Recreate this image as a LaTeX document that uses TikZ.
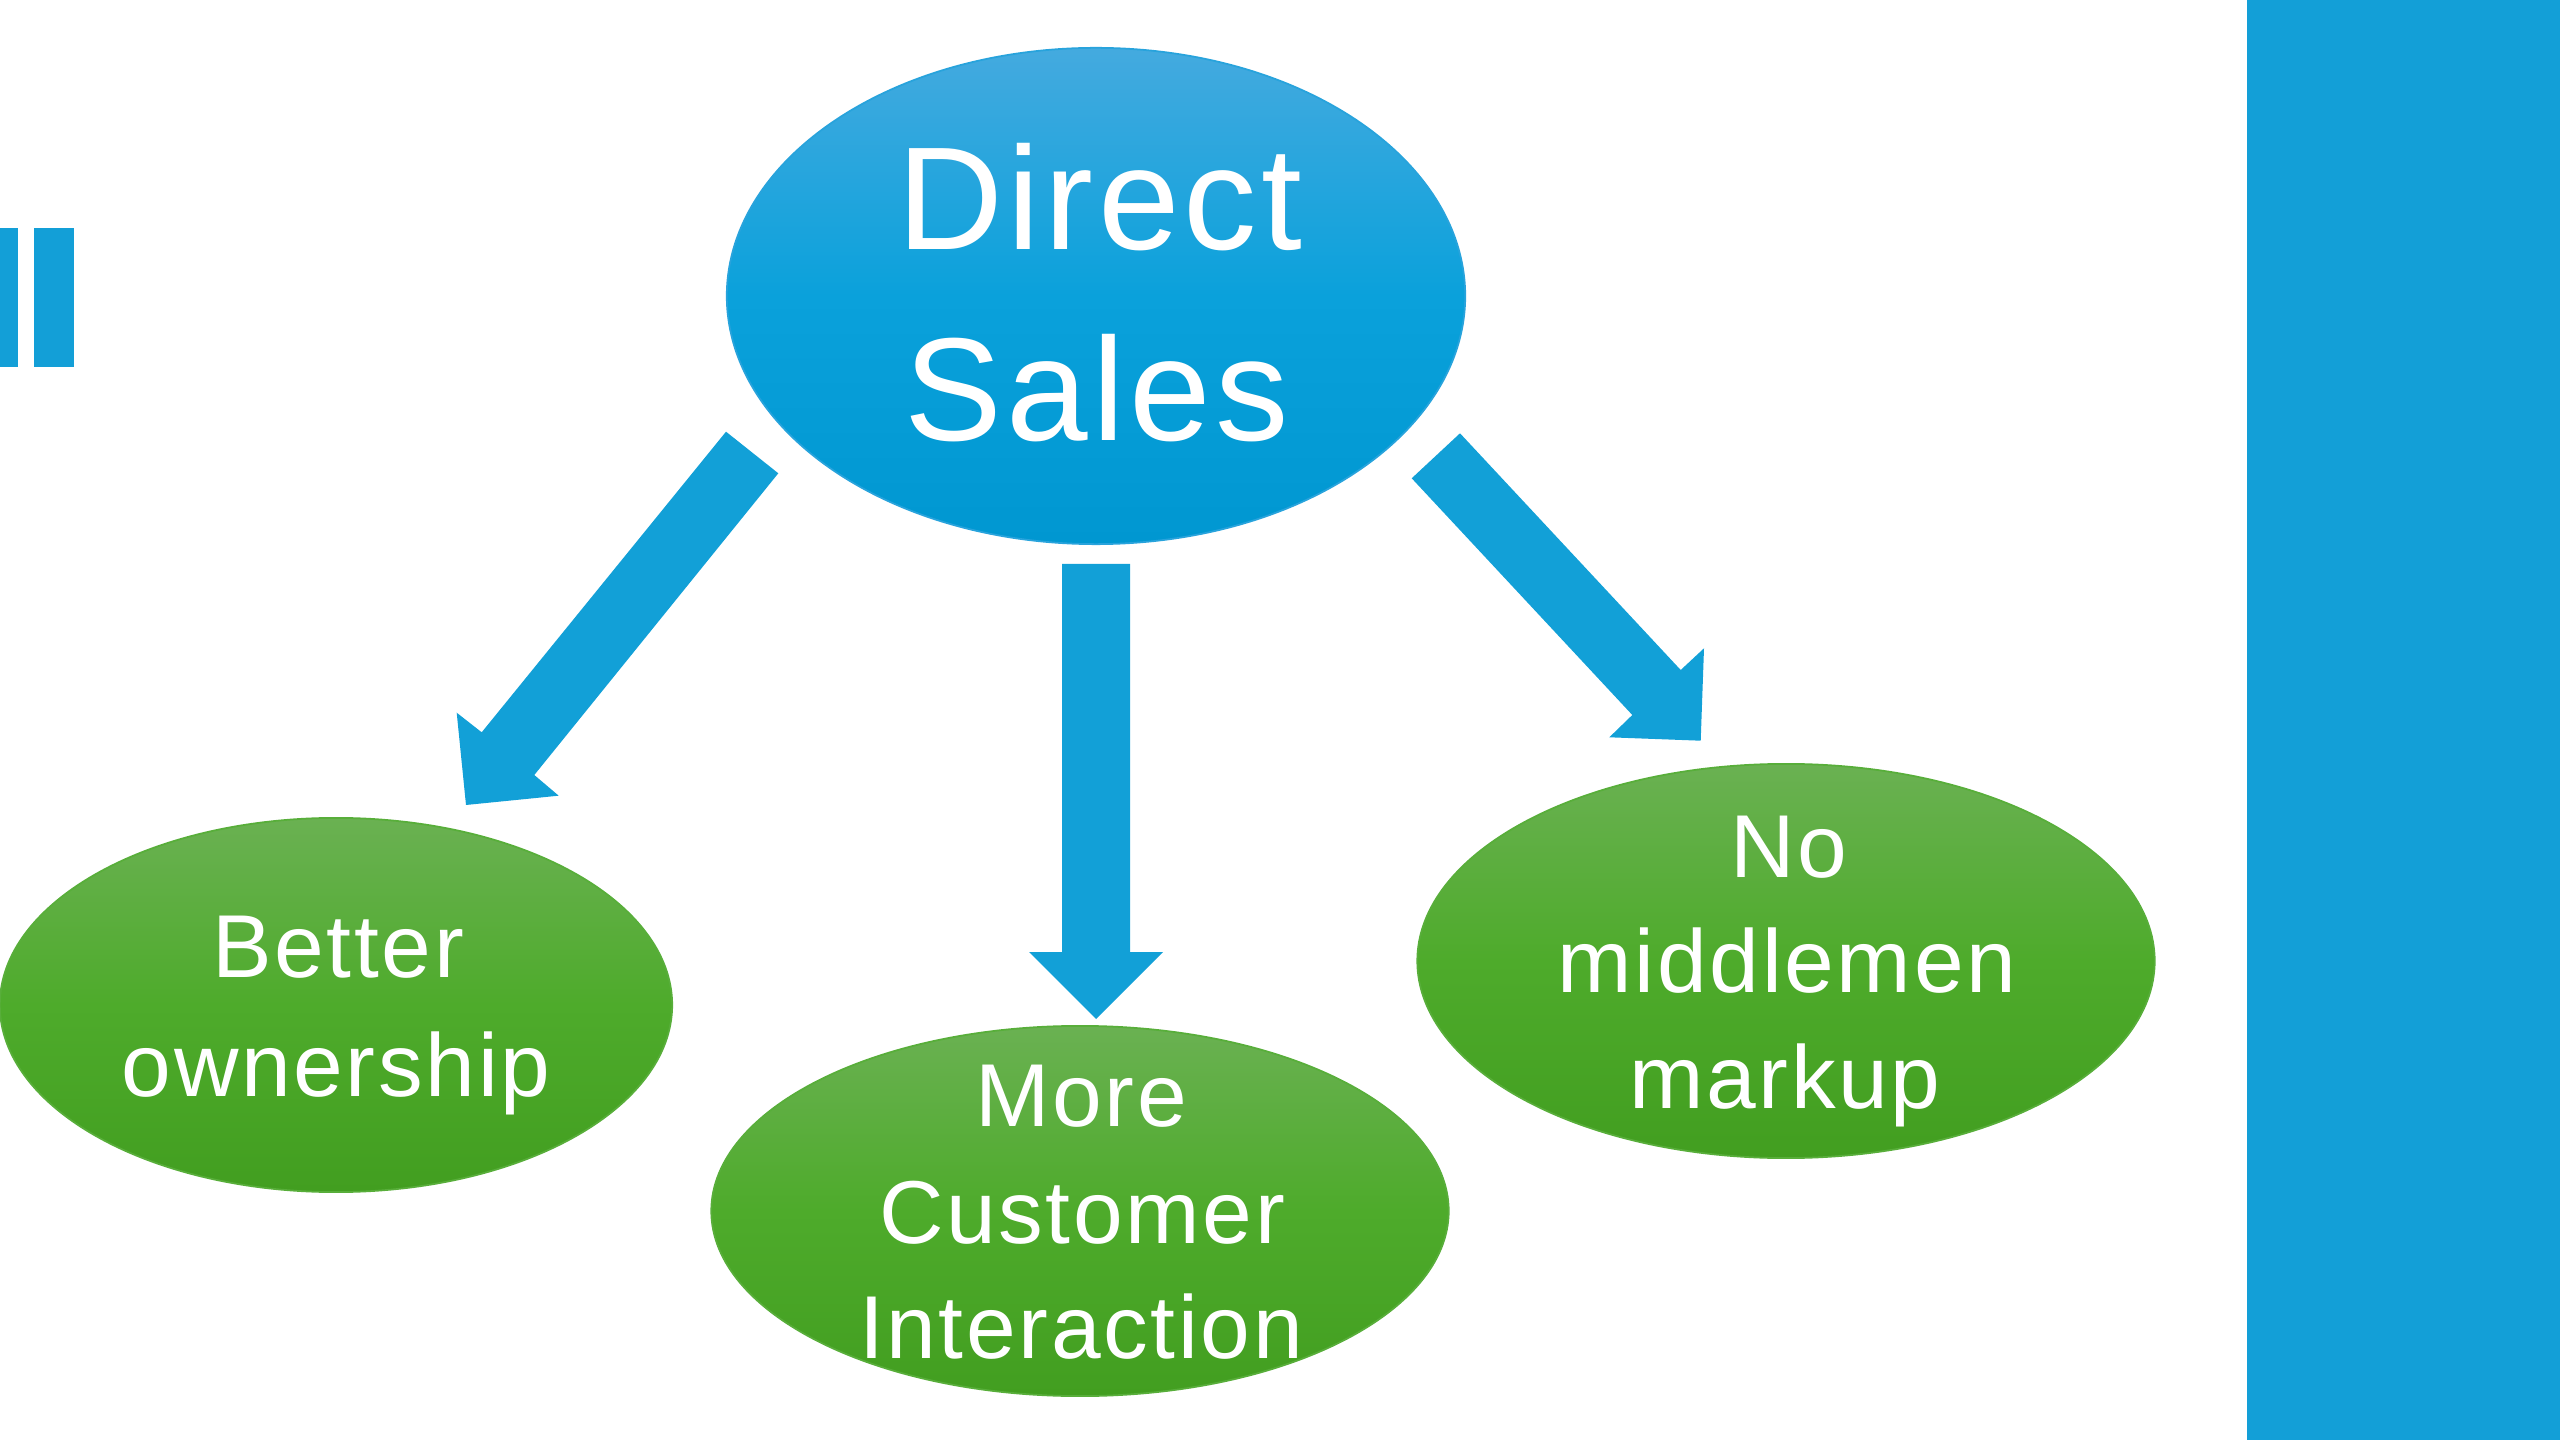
\documentclass[tikz,border=0pt]{standalone}
\usepackage{fontspec}
\setmainfont{Liberation Sans}[LetterSpace=3]
\usetikzlibrary{shapes.geometric}
\definecolor{barblue}{RGB}{19,159,215}
\definecolor{arrblue}{RGB}{18,160,215}
\definecolor{btop}{RGB}{68,170,223}
\definecolor{bmid}{RGB}{10,161,219}
\definecolor{bbot}{RGB}{0,151,209}
\definecolor{bline}{RGB}{40,163,220}
\definecolor{gtop}{RGB}{106,177,82}
\definecolor{gmid}{RGB}{78,171,43}
\definecolor{gbot}{RGB}{66,158,32}
\definecolor{gline}{RGB}{88,174,58}
\begin{document}
\begin{tikzpicture}[x=0.01cm,y=-0.01cm,
  blueell/.style={ellipse, inner sep=0pt, top color=btop, bottom color=bbot, middle color=bmid, draw=bline, line width=0.5pt},
  greenell/.style={ellipse, inner sep=0pt, top color=gtop, bottom color=gbot, middle color=gmid, draw=gline, line width=0.5pt},
  bigtxt/.style={text=white, inner sep=0pt, anchor=base, font=\fontsize{41.7}{50}\selectfont},
  smalltxt/.style={text=white, inner sep=0pt, anchor=base, font=\fontsize{25.4}{30}\selectfont},
  blockarrow/.style={fill=arrblue, draw=none}
]
\useasboundingbox (0,0) rectangle (2560,1440);
% side decorations
\fill[barblue] (2247,0) rectangle (2560,1440);
\fill[barblue] (0,228) rectangle (18,367);
\fill[barblue] (34,228) rectangle (74,367);

% ellipses
\node[blueell, minimum width=7.38cm, minimum height=4.96cm] (ds) at (1096,296) {};
\node[greenell, minimum width=6.72cm, minimum height=3.74cm] (bo) at (336,1005) {};
\node[greenell, minimum width=7.37cm, minimum height=3.70cm] (mc) at (1080,1211) {};
\node[greenell, minimum width=7.37cm, minimum height=3.94cm] (nm) at (1786,961) {};

% texts
\node[bigtxt] (dsA) at (1100,250) {Direct};
\node[bigtxt] (dsB) at (1097,441) {Sales};

\node[smalltxt] (boA) at (338,978) {Better};
\node[smalltxt] (boB) at (336,1096) {ownership};

\node[smalltxt] (mcA) at (1081,1126) {More};
\node[smalltxt] (mcB) at (1082,1243) {Customer};
\node[smalltxt] (mcC) at (1081,1358) {Interaction};

\node[smalltxt] (nmA) at (1789,877) {No};
\node[smalltxt] (nmB) at (1787,992) {middlemen};
\node[smalltxt] (nmC) at (1785,1108) {markup};

% block arrows
\fill[blockarrow] (726,431.7) -- (778.3,473.3) -- (534.3,775) -- (558.7,795.7)
  -- (466,805) -- (456.7,712.7) -- (481.7,732.3) -- cycle;
\fill[blockarrow] (1062,564) -- (1130,564) -- (1130,952) -- (1163,952)
  -- (1096,1019) -- (1029,952) -- (1062,952) -- cycle;
\fill[blockarrow] (1411.7,478.3) -- (1460,433.3) -- (1680.7,670) -- (1704,648.3)
  -- (1700.7,740.7) -- (1609.3,737.3) -- (1632.3,715) -- cycle;
\end{tikzpicture}
\end{document}
